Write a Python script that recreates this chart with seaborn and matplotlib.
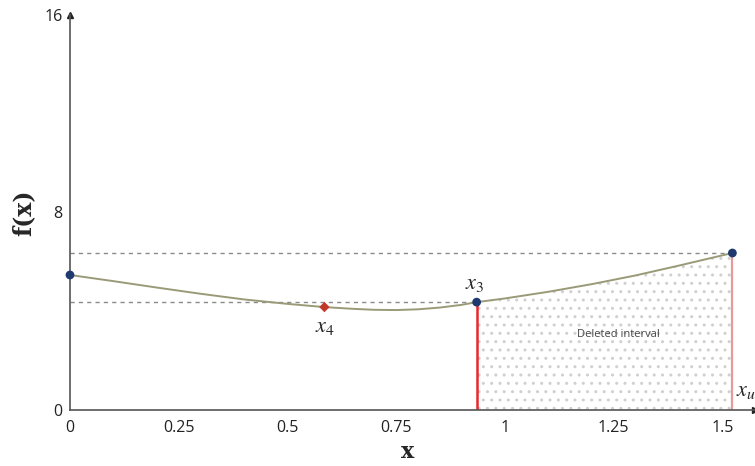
import numpy as np
import pandas as pd
import matplotlib
matplotlib.use("Agg")
import matplotlib.pyplot as plt
import seaborn as sns

# valores
curve_x = [0, 0.1, 0.2, 0.3, 0.4, 0.5, 0.585, 0.65, 0.7, 0.75, 0.8, 0.85, 0.9, 0.935, 1.0, 1.1, 1.2, 1.3, 1.4, 1.523]
curve_f = [5.47, 5.22, 4.96, 4.71, 4.48, 4.30, 4.17, 4.10, 4.06, 4.05, 4.08, 4.15, 4.26, 4.37, 4.52, 4.79, 5.10, 5.45, 5.85, 6.36]

x_l, f_l = 0.0, 5.47
x3, f3 = 0.935, 4.37
x4, f4 = 0.585, 4.17
xu, fu = 1.523, 6.36

x_ticks = [0, 0.25, 0.5, 0.75, 1, 1.25, 1.5]
x_tick_labels = ["0", "0.25", "0.5", "0.75", "1", "1.25", "1.5"]
y_ticks = [0, 8, 16]

curve_df = pd.DataFrame({"x": curve_x, "f": curve_f})

sns.set_style("white")
plt.rcParams["font.family"] = ["Open Sans", "DejaVu Sans"]
plt.rcParams["mathtext.fontset"] = "stix"

fig = plt.figure(figsize=(7.55, 4.66), dpi=100)
ax = fig.add_axes([0.0927, 0.12, 0.9073, 0.848])

# zona eliminada con puntos
xs = [a for a in curve_x if a >= x3]
fs = [b for a, b in zip(curve_x, curve_f) if a >= x3]
ax.fill_between(xs, 0, fs, facecolor="none", edgecolor="#d0d0d0", hatch="..", linewidth=0)

# lineas punteadas horizontales
ax.plot([x_l, xu], [fu, fu], ls=(0, (3, 3)), color="#8a8a8a", lw=1)
ax.plot([x_l, x3], [f3, f3], ls=(0, (3, 3)), color="#8a8a8a", lw=1)

sns.lineplot(data=curve_df, x="x", y="f", ax=ax, color="#9a9a78", lw=1.4, sort=False)

# lineas verticales
ax.plot([x3, x3], [0, f3], color="#e8282c", lw=1.8)
ax.plot([xu, xu], [0, fu], color="#e89a9a", lw=1.6)

pts = pd.DataFrame({"x": [x_l, x3, xu], "f": [f_l, f3, fu]})
sns.scatterplot(data=pts, x="x", y="f", ax=ax, color="#1f3a6e", s=40, zorder=5, edgecolor="none", clip_on=False)
ax.scatter([x4], [f4], color="#c0392b", s=28, zorder=5, marker="D", edgecolor="none")

ax.text(x3 - 0.005, f3 + 0.35, r"$x_3$", fontsize=16, ha="center", va="bottom")
ax.text(x4, f4 - 0.35, r"$x_4$", fontsize=16, ha="center", va="top")
ax.text(xu + 0.008, 0.35, r"$x_u$", fontsize=16, ha="left", va="bottom", clip_on=False)
ax.text(1.26, 3.05, "Deleted interval", fontsize=8, ha="center", va="center", color="#444444")

ax.set_xlim(0, 1.575)
ax.set_ylim(0, 16)
ax.set_xticks(x_ticks)
ax.set_xticklabels(x_tick_labels)
ax.set_yticks(y_ticks)
ax.tick_params(axis="both", labelsize=11.5, colors="#222222", length=4, width=1, direction="inout")
ax.tick_params(axis="x", pad=5)

for s in ["top", "right"]:
    ax.spines[s].set_visible(False)
for s in ["left", "bottom"]:
    ax.spines[s].set_color("#555555")
    ax.spines[s].set_linewidth(1.2)

# flechas de los ejes
ax.plot(0, 1, marker="^", color="#222222", markersize=5, transform=ax.transAxes, clip_on=False)
ax.plot(1, 0, marker=">", color="#222222", markersize=5, transform=ax.transAxes, clip_on=False)

ax.set_xlabel("x", fontsize=16, fontweight="bold", family="DejaVu Serif")
ax.xaxis.set_label_coords(0.493, -0.078)
ax.set_ylabel("f(x)", fontsize=17, fontweight="bold", family="DejaVu Serif")
ax.yaxis.set_label_coords(-0.05, 0.5)

fig.savefig("out.png", dpi=100)
